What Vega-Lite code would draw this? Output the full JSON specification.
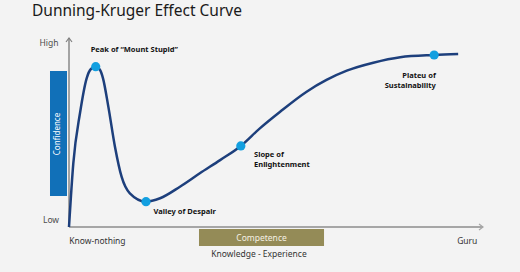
{
  "$schema": "https://vega.github.io/schema/vega-lite/v6.json",
  "width": 414,
  "height": 189,
  "autosize": {"type": "none"},
  "padding": {"left": 69, "top": 38, "right": 37, "bottom": 45},
  "background": "#f3f3f3",
  "config": {"view": {"stroke": null}, "font": "Noto Sans"},
  "datasets": {
    "curve": [
      {"x": 0, "y": 0},
      {"x": 1.04, "y": 33.7},
      {"x": 2.66, "y": 60.3},
      {"x": 4.28, "y": 78.8},
      {"x": 5.3, "y": 83.6},
      {"x": 6.45, "y": 84.8},
      {"x": 7.5, "y": 83.1},
      {"x": 8.2, "y": 78.8},
      {"x": 9.5, "y": 63.7},
      {"x": 11.1, "y": 42.5},
      {"x": 12.7, "y": 26.6},
      {"x": 14.7, "y": 17.8},
      {"x": 18.6, "y": 13.4},
      {"x": 22.0, "y": 15.2},
      {"x": 26.8, "y": 21.3},
      {"x": 31.6, "y": 28.4},
      {"x": 36.5, "y": 35.4},
      {"x": 41.5, "y": 42.9},
      {"x": 46.1, "y": 52.2},
      {"x": 51.0, "y": 61.0},
      {"x": 57.4, "y": 71.6},
      {"x": 62.2, "y": 77.8},
      {"x": 67.1, "y": 82.7},
      {"x": 73.5, "y": 86.9},
      {"x": 80.0, "y": 89.8},
      {"x": 88.2, "y": 91.0},
      {"x": 94.0, "y": 91.5}
    ],
    "milestones": [
      {"x": 6.45, "y": 84.8, "stage": "Peak of Mount Stupid"},
      {"x": 18.6, "y": 13.4, "stage": "Valley of Despair"},
      {"x": 41.5, "y": 42.9, "stage": "Slope of Enlightenment"},
      {"x": 88.2, "y": 91.0, "stage": "Plateau of Sustainability"}
    ],
    "yaxis": [{"x": 0, "y": 0, "x2": 0, "y2": 100}],
    "xaxis": [{"x": 0, "y": 0, "x2": 100, "y2": 0}],
    "uparrow": [{"x": 0, "y": 100}],
    "rightarrow": [{"x": 100, "y": 0}],
    "boxes": [
      {"x": -4.59, "x2": -0.48, "y": 82.5, "y2": 16.4, "box": "Confidence"},
      {"x": 31.4, "x2": 61.6, "y": -1.06, "y2": -10.05, "box": "Competence"}
    ],
    "stagelabels": [
      {"x": 5.24, "y": 92.6, "text": "Peak of “Mount Stupid”", "side": "left"},
      {"x": 20.4, "y": 6.9, "text": "Valley of Despair", "side": "left"},
      {"x": 44.7, "y": 37.0, "text": "Slope of\nEnlightenment", "side": "left"},
      {"x": 88.6, "y": 78.7, "text": "Plateu of\nSustainability", "side": "right"}
    ],
    "axislabels": [
      {"x": -4.83, "y": 97.4, "text": "High", "pos": "center"},
      {"x": -4.35, "y": 3.7, "text": "Low", "pos": "center"}
    ],
    "bottomlabels": [
      {"x": 0.07, "y": -9.0, "text": "Know-nothing", "pos": "left"},
      {"x": 96.2, "y": -9.2, "text": "Guru", "pos": "center"},
      {"x": 45.9, "y": -15.7, "text": "Knowledge  -  Experience", "pos": "center"}
    ],
    "competence": [{"x": 46.5, "y": -5.6, "text": "Competence"}],
    "confidence": [{"x": -2.54, "y": 49.2, "text": "Confidence"}],
    "title": [{"x": -8.94, "y": 111.8, "text": "Dunning-Kruger Effect Curve"}]
  },
  "encoding": {
    "x": {"field": "x", "type": "quantitative", "scale": {"domain": [0, 100], "nice": false, "zero": false}, "axis": null},
    "y": {"field": "y", "type": "quantitative", "scale": {"domain": [0, 100], "nice": false, "zero": false}, "axis": null}
  },
  "layer": [
    {
      "data": {"name": "boxes"},
      "mark": {"type": "rect"},
      "encoding": {
        "x2": {"field": "x2"},
        "y2": {"field": "y2"},
        "color": {"field": "box", "type": "nominal", "scale": {"domain": ["Confidence", "Competence"], "range": ["#1170b8", "#948b57"]}, "legend": null}
      }
    },
    {
      "data": {"name": "xaxis"},
      "mark": {"type": "rule", "color": "#a6a6a6", "strokeWidth": 2},
      "encoding": {"x2": {"field": "x2"}, "y2": {"field": "y2"}}
    },
    {
      "data": {"name": "yaxis"},
      "mark": {"type": "rule", "color": "#808080", "strokeWidth": 1.4},
      "encoding": {"x2": {"field": "x2"}, "y2": {"field": "y2"}}
    },
    {
      "data": {"name": "uparrow"},
      "mark": {"type": "point", "shape": "M -0.75 1 L 0 0 L 0.75 1", "size": 64, "filled": false, "color": "#808080", "strokeWidth": 1.2, "opacity": 1},
      "encoding": {}
    },
    {
      "data": {"name": "rightarrow"},
      "mark": {"type": "point", "shape": "M -1 -0.75 L 0 0 L -1 0.75", "size": 64, "filled": false, "color": "#a6a6a6", "strokeWidth": 1.2, "opacity": 1},
      "encoding": {}
    },
    {
      "data": {"name": "curve"},
      "mark": {"type": "line", "interpolate": "monotone", "color": "#1d3f7c", "strokeWidth": 2.5},
      "encoding": {}
    },
    {
      "data": {"name": "milestones"},
      "mark": {"type": "point", "filled": true, "size": 85, "color": "#129fe0", "opacity": 1},
      "encoding": {}
    },
    {
      "data": {"name": "stagelabels"},
      "transform": [{"filter": "datum.side == 'left'"}],
      "mark": {"type": "text", "align": "left", "baseline": "alphabetic", "fontWeight": "bold", "fontSize": 7.5, "color": "#111111", "lineBreak": "\n", "lineHeight": 9.5},
      "encoding": {"text": {"field": "text"}}
    },
    {
      "data": {"name": "stagelabels"},
      "transform": [{"filter": "datum.side == 'right'"}],
      "mark": {"type": "text", "align": "right", "baseline": "alphabetic", "fontWeight": "bold", "fontSize": 7.5, "color": "#111111", "lineBreak": "\n", "lineHeight": 9.5},
      "encoding": {"text": {"field": "text"}}
    },
    {
      "data": {"name": "axislabels"},
      "mark": {"type": "text", "align": "center", "baseline": "middle", "fontSize": 8.5, "color": "#4d4d4d"},
      "encoding": {"text": {"field": "text"}}
    },
    {
      "data": {"name": "bottomlabels"},
      "transform": [{"filter": "datum.pos == 'left'"}],
      "mark": {"type": "text", "align": "left", "baseline": "alphabetic", "fontSize": 8.5, "color": "#333333"},
      "encoding": {"text": {"field": "text"}}
    },
    {
      "data": {"name": "bottomlabels"},
      "transform": [{"filter": "datum.pos == 'center'"}],
      "mark": {"type": "text", "align": "center", "baseline": "alphabetic", "fontSize": 8.5, "color": "#333333"},
      "encoding": {"text": {"field": "text"}}
    },
    {
      "data": {"name": "competence"},
      "mark": {"type": "text", "align": "center", "baseline": "middle", "fontSize": 8.5, "color": "#f4f1e4"},
      "encoding": {"text": {"field": "text"}}
    },
    {
      "data": {"name": "confidence"},
      "mark": {"type": "text", "align": "center", "baseline": "middle", "fontSize": 8, "color": "#ffffff", "angle": 270},
      "encoding": {"text": {"field": "text"}}
    },
    {
      "data": {"name": "title"},
      "mark": {"type": "text", "align": "left", "baseline": "alphabetic", "fontSize": 15.5, "color": "#1a1a1a"},
      "encoding": {"text": {"field": "text"}}
    }
  ]
}
